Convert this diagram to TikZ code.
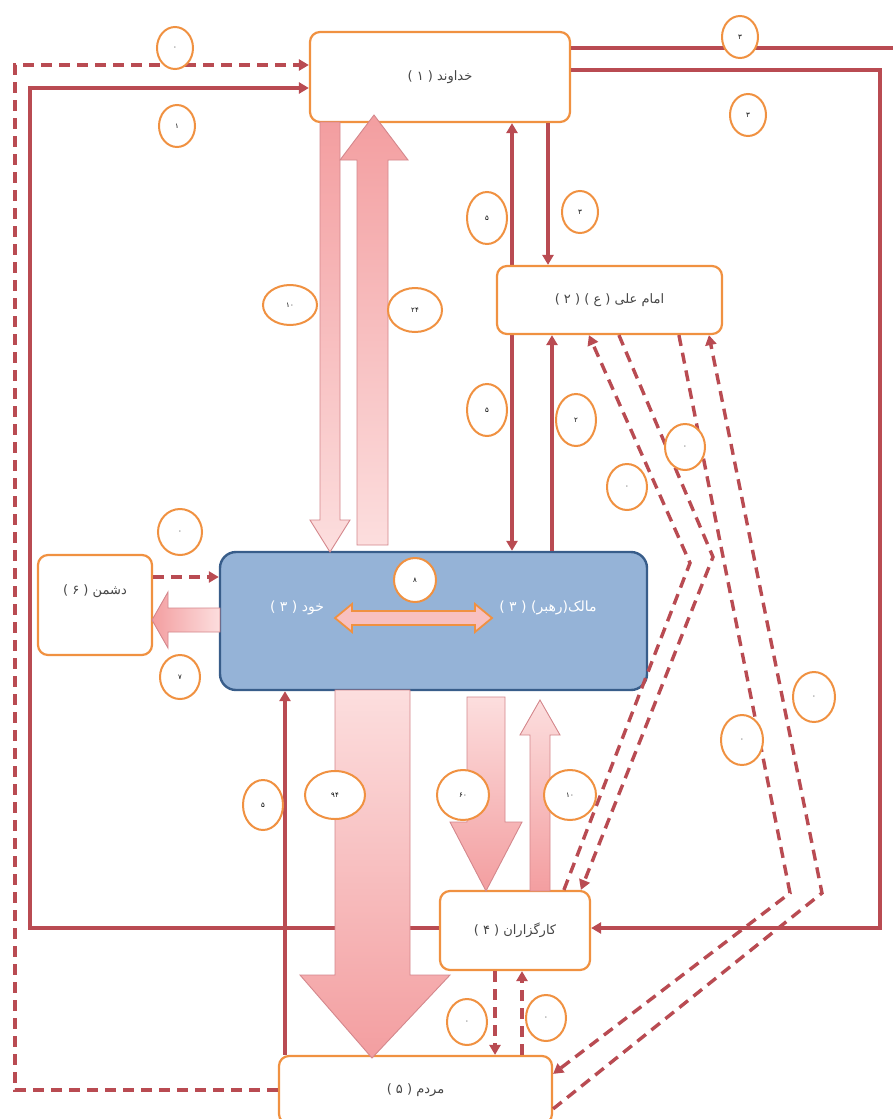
\documentclass[tikz,border=0pt]{standalone}
\usepackage{fontspec}
\newfontfamily\arabicfont[Script=Arabic]{DejaVu Sans}
\TeXXeTstate=1
\usetikzlibrary{arrows.meta,shapes.geometric,calc}

\definecolor{boxorange}{RGB}{240,145,65}
\definecolor{linkred}{RGB}{185,75,82}
\definecolor{leaderfill}{RGB}{149,179,215}
\definecolor{leaderdraw}{RGB}{56,93,138}
\definecolor{fatpink}{RGB}{243,158,160}
\definecolor{fatlight}{RGB}{252,222,222}
\definecolor{fatedge}{RGB}{212,135,140}
\definecolor{innerpink}{RGB}{248,192,192}
\definecolor{textgrey}{RGB}{70,70,70}

\tikzset{
    box/.style={draw=boxorange, line width=2.2pt, rounded corners=10pt, fill=white, inner sep=2pt, text=textgrey, font=\arabicfont\fontsize{13}{15}\selectfont},
    boxtext/.style={inner sep=1pt, text=textgrey, font=\arabicfont\fontsize{13}{15}\selectfont},
    leadertext/.style={inner sep=1pt, text=white, font=\arabicfont\fontsize{14}{16}\selectfont},
    num/.style={ellipse, draw=boxorange, line width=2pt, fill=white, minimum width=36pt, minimum height=42pt, inner sep=0pt, font=\arabicfont\fontsize{7}{8}\selectfont},
    numwide/.style={num, minimum width=54pt, minimum height=40pt},
    link/.style={linkred, line width=3.4pt},
    dlink/.style={link, dash pattern=on 11pt off 7pt},
    fat/.style={draw=fatedge, line width=0.9pt},
}

\begin{document}
\begin{tikzpicture}[x=1pt, y=-1pt, >={Triangle[length=10pt,width=11pt]}]

    \useasboundingbox (0,0) rectangle (892,1119);
    \fill[white] (0,0) rectangle (892,1119);

    %% Boxes
    \node[box, minimum width=260pt, minimum height=90pt] (god) at (440,77) {\beginR خداوند ( ۱ )\endR};
    \node[draw=leaderdraw, fill=leaderfill, line width=2.4pt, rounded corners=16pt, minimum width=427pt, minimum height=138pt] (leader) at (433.5,621) {};
    \node[leadertext] (leadername) at (548,608) {\beginR مالک(رهبر) ( ۳ )\endR};
    \node[leadertext] (self) at (297,608) {\beginR خود ( ۳ )\endR};
    \node[box, minimum width=114pt, minimum height=100pt] (enemy) at (95,605) {};
    \node[boxtext, yshift=14pt] (enemyname) at (enemy) {\beginR دشمن ( ۶ )\endR};
    \node[box, minimum width=150pt, minimum height=79pt] (agents) at (515,930.5) {\beginR کارگزاران ( ۴ )\endR};
    \node[box, minimum width=273pt, minimum height=68pt] (people) at (415.5,1090) {\beginR مردم ( ۵ )\endR};

    % x and y positions of the straight links
    \coordinate (xa) at (512,0);
    \coordinate (xb) at (548,0);
    \coordinate (xc) at (552,0);
    \coordinate (xd) at (285,0);
    \coordinate (xe) at (495,0);
    \coordinate (xf) at (522,0);
    \coordinate (yd) at (0,577);
    \coordinate (ya) at (0,928);

    % god <-> leader, behind the imam box
    \draw[link, <->] (god.south -| xa) -- (leader.north -| xa);

    \node[box, minimum width=225pt, minimum height=68pt] (imam) at (609.5,300) {\beginR امام علی ( ع ) ( ۲ )\endR};

    %% Outer links
    \coordinate (godin1) at ($(god.west)+(0,-12)$);
    \coordinate (godin2) at ($(god.west)+(0,11)$);
    \coordinate (godout1) at ($(god.east)+(0,-29)$);
    \coordinate (godout2) at ($(god.east)+(0,-7)$);
    \coordinate (offright) at (895,48);

    \draw[dlink, ->] (people.west) -- (15,1090) -- (15,65) -- (godin1);
    \draw[link, ->] (agents.west |- ya) -- (30,928) -- (30,88) -- (godin2);
    \draw[link] (godout1) -- (offright);
    \draw[link, ->] (godout2) -- (880,70) -- (880,928) -- (agents.east |- ya);

    %% Thin links
    \draw[link, ->] (god.south -| xb) -- (imam.north -| xb);
    \draw[link, ->] (leader.north -| xc) -- (imam.south -| xc);
    \draw[link, ->] (people.north -| xd) -- (leader.south -| xd);
    \draw[dlink, ->] (agents.south -| xe) -- (people.north -| xe);
    \draw[dlink, ->] (people.north -| xf) -- (agents.south -| xf);
    \draw[dlink, ->] (enemy.east |- yd) -- (leader.west |- yd);

    % Dashed diagonals
    \coordinate (imamA) at ($(imam.south west)+(93,0)$);
    \coordinate (imamB) at ($(imam.south west)+(123,0)$);
    \coordinate (imamC) at ($(imam.south west)+(183,0)$);
    \coordinate (imamD) at ($(imam.south west)+(213,0)$);
    \coordinate (agentsA) at ($(agents.north west)+(125,0)$);
    \coordinate (agentsB) at ($(agents.north west)+(142,0)$);
    \coordinate (peopleA) at ($(people.north east)+(0,19)$);
    \coordinate (peopleB) at ($(people.north east)+(0,54)$);

    \draw[dlink, ->] (agentsA) -- (690,563) -- (imamA);
    \draw[dlink, ->] (imamB) -- (713,557) -- (agentsB);
    \draw[dlink, ->] (imamC) -- (790,893) -- (peopleA);
    \draw[dlink, ->] (peopleB) -- (822,893) -- (imamD);

    %% Block arrows
    \draw[fat, top color=fatpink, bottom color=fatlight] (320,122) -- (340,122) -- (340,520) -- (350,520) -- (330,552) -- (310,520) -- (320,520) -- cycle;
    \draw[fat, top color=fatpink, bottom color=fatlight] (357,545) -- (357,160) -- (340,160) -- (374,115) -- (408,160) -- (388,160) -- (388,545) -- cycle;
    \draw[fat, top color=fatlight, bottom color=fatpink] (335,690) -- (410,690) -- (410,975) -- (450,975) -- (372,1058) -- (300,975) -- (335,975) -- cycle;
    \draw[fat, top color=fatlight, bottom color=fatpink] (467,697) -- (505,697) -- (505,822) -- (522,822) -- (486,891) -- (450,822) -- (467,822) -- cycle;
    \draw[fat, top color=fatlight, bottom color=fatpink] (530,891) -- (530,735) -- (520,735) -- (540,700) -- (560,735) -- (550,735) -- (550,891) -- cycle;
    \draw[fat, left color=fatpink, right color=fatlight] (220,608) -- (168,608) -- (168,592) -- (152,620) -- (168,648) -- (168,632) -- (220,632) -- cycle;

    % leader <-> self
    \draw[draw=boxorange, line width=1.8pt, fill=innerpink] (335,618) -- (352,604) -- (352,611) -- (475,611) -- (475,604) -- (492,618) -- (475,632) -- (475,625) -- (352,625) -- (352,632) -- cycle;

    %% Numbers
    \node[num] (n1) at (175,48) {۰};
    \node[num] (n2) at (177,126) {۱};
    \node[num] (n3) at (740,37) {۳};
    \node[num] (n4) at (748,115) {۳};
    \node[num, minimum width=40pt, minimum height=52pt] (n5) at (487,218) {۵};
    \node[num] (n6) at (580,212) {۳};
    \node[num, minimum width=40pt, minimum height=52pt] (n7) at (487,410) {۵};
    \node[num, minimum width=40pt, minimum height=52pt] (n8) at (576,420) {۲};
    \node[numwide] (n9) at (290,305) {۱۰};
    \node[numwide, minimum height=44pt] (n10) at (415,310) {۲۴};
    \node[num, minimum width=40pt, minimum height=46pt] (n11) at (685,447) {۰};
    \node[num, minimum width=40pt, minimum height=46pt] (n12) at (627,487) {۰};
    \node[num, minimum width=44pt, minimum height=46pt] (n13) at (180,532) {۰};
    \node[num, minimum width=42pt, minimum height=44pt] (n14) at (415,580) {۸};
    \node[num, minimum width=40pt, minimum height=44pt] (n15) at (180,677) {۷};
    \node[num, minimum width=42pt, minimum height=50pt] (n16) at (814,697) {۰};
    \node[num, minimum width=42pt, minimum height=50pt] (n17) at (742,740) {۰};
    \node[numwide, minimum width=60pt, minimum height=48pt] (n18) at (335,795) {۹۴};
    \node[numwide, minimum width=52pt, minimum height=50pt] (n19) at (463,795) {۶۰};
    \node[numwide, minimum width=52pt, minimum height=50pt] (n20) at (570,795) {۱۰};
    \node[num, minimum width=40pt, minimum height=50pt] (n21) at (263,805) {۵};
    \node[num, minimum width=40pt, minimum height=46pt] (n22) at (467,1022) {۰};
    \node[num, minimum width=40pt, minimum height=46pt] (n23) at (546,1018) {۰};

\end{tikzpicture}
\end{document}
